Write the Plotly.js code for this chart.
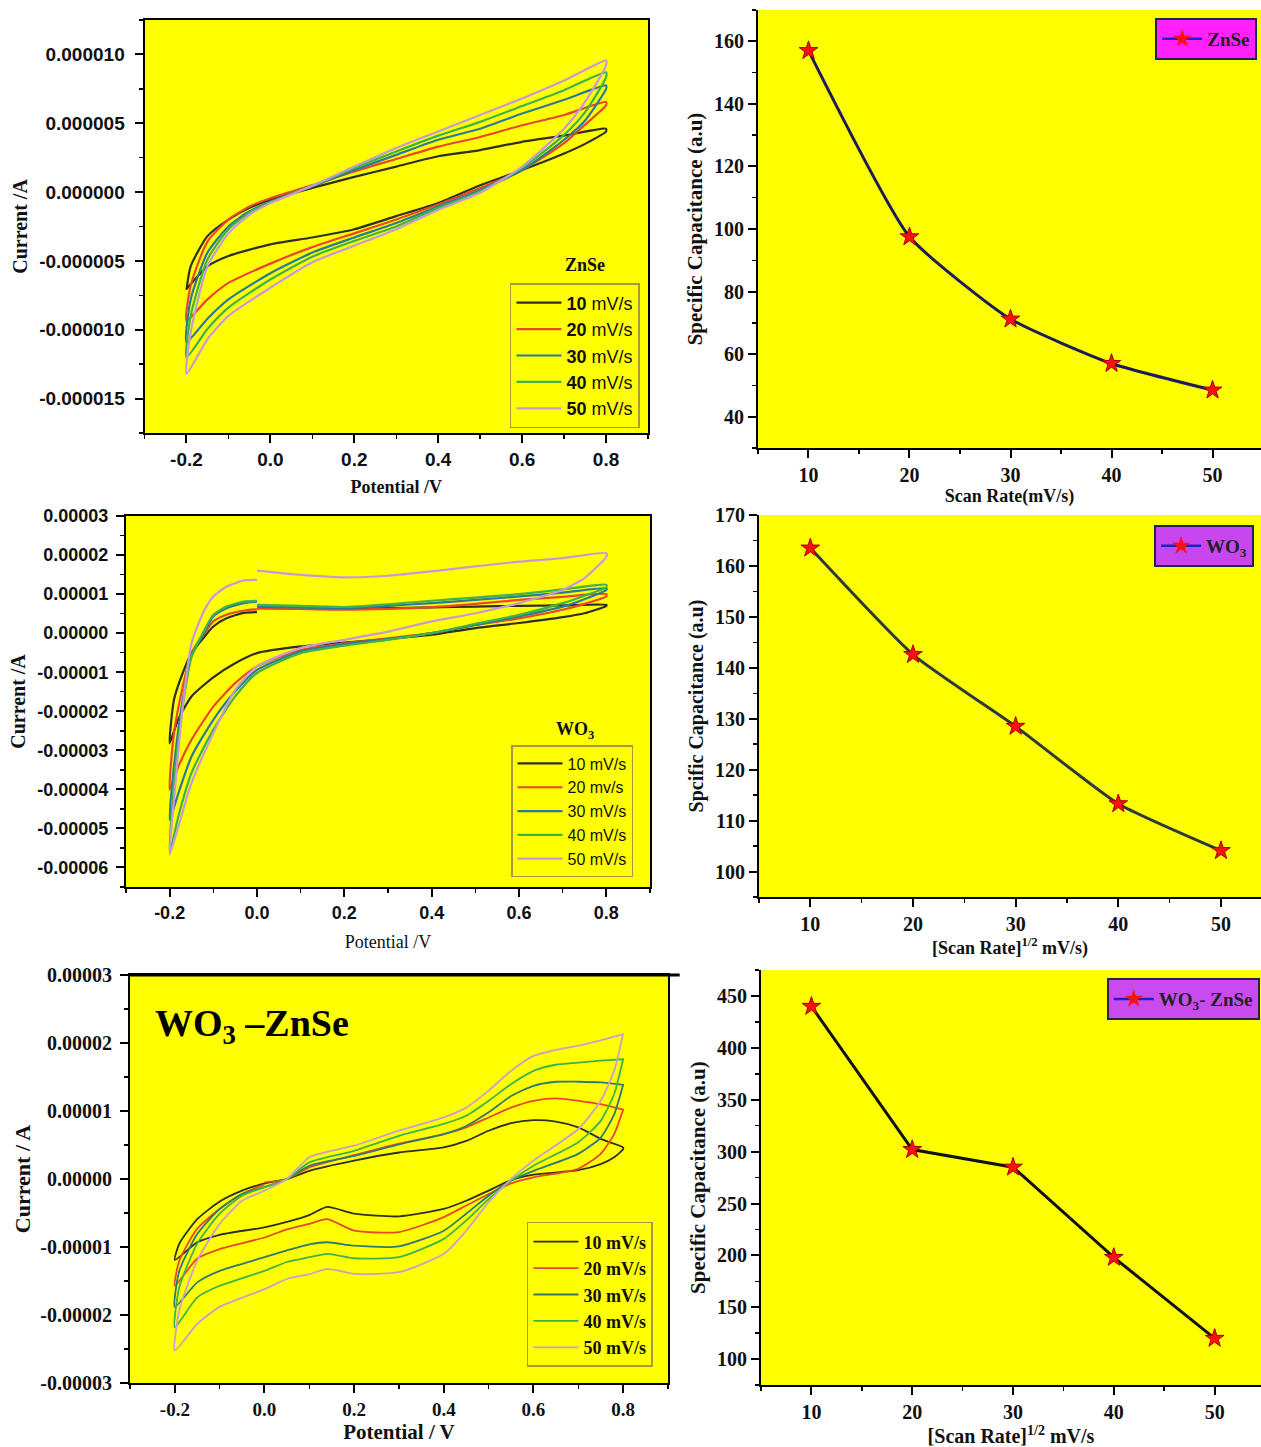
<!DOCTYPE html>
<html><head><meta charset="utf-8">
<script src="https://cdn.plot.ly/plotly-3.0.1.min.js"></script>
<style>html,body{margin:0;padding:0;background:#fff}</style>
</head><body>
<div id="chart" style="width:1261px;height:1447px"></div>
<script>
// ---------------- DATA ----------------
// Cyclic voltammetry, currents in microamperes (µA), potentials in V
const RATE_NAMES = ['10 mV/s', '20 mV/s', '30 mV/s', '40 mV/s', '50 mV/s'];

// Panel 1: ZnSe
const ZNSE_V = [-0.2,-0.19,-0.15,-0.1,-0.05,0,0.1,0.2,0.3,0.4,0.5,0.6,0.7,0.8,
                0.8,0.75,0.7,0.6,0.5,0.4,0.3,0.2,0.1,0,-0.1,-0.15,-0.2];
const ZNSE_10 = [-7.1,-5.4,-3.2,-2.0,-1.15,-0.55,0.3,1.1,1.85,2.6,3.05,3.65,4.1,4.6,
                 4.4,3.5,2.8,1.6,0.5,-0.8,-1.75,-2.7,-3.3,-3.8,-4.65,-5.4,-7.05];
const ZNSE_20 = [-9.35,-6.8,-3.6,-2.0,-1.05,-0.45,0.5,1.5,2.4,3.3,4.0,4.85,5.6,6.55,
                 6.3,4.9,3.55,1.6,0.3,-0.9,-2.0,-3.0,-4.0,-5.2,-6.6,-7.8,-9.35];
const ZNSE_30 = [-10.9,-7.8,-4.4,-2.5,-1.4,-0.7,0.4,1.6,2.7,3.8,4.6,5.7,6.7,7.75,
                 7.5,5.2,3.8,1.6,0.15,-1.05,-2.25,-3.3,-4.4,-5.9,-7.8,-9.2,-10.9];
const ZNSE_40 = [-12.0,-9.0,-4.9,-2.7,-1.5,-0.75,0.45,1.75,2.95,4.1,5.1,6.25,7.4,8.7,
                 8.35,5.8,4.15,1.75,0.05,-1.15,-2.5,-3.55,-4.7,-6.35,-8.4,-9.95,-12.0];
const ZNSE_50 = [-13.2,-10.2,-5.4,-3.0,-1.65,-0.8,0.45,1.85,3.2,4.4,5.6,6.8,8.1,9.55,
                 9.2,6.55,4.6,1.85,-0.05,-1.3,-2.7,-3.9,-5.1,-6.95,-9.0,-10.7,-13.2];

// Panel 3: WO3
const WO3_V = [0,0.1,0.2,0.3,0.4,0.5,0.6,0.7,0.8,
               0.8,0.75,0.7,0.6,0.5,0.4,0.3,0.2,0.1,0,-0.05,-0.1,-0.15,-0.18,-0.2,
               -0.19,-0.17,-0.15,-0.12,-0.1,-0.07,-0.03,0];
const WO3_10 = [6.4,6.3,6.2,6.4,6.6,6.8,7.0,7.1,7.25,
                7.0,5.1,4.1,2.6,1.3,-0.4,-1.5,-2.4,-3.4,-5.1,-7.7,-11.3,-16.2,-22.0,-28.2,
                -17,-10.2,-5.1,-0.85,1.7,3.8,5.2,5.4];
const WO3_20 = [6.4,6.2,6.0,6.2,6.65,7.5,8.5,9.3,10.0,
                9.4,7.5,6.0,3.8,2.1,0,-1.3,-2.6,-4.3,-8.5,-12.8,-18.8,-27.3,-34.1,-40.1,
                -25.6,-13.7,-5.1,0,3.0,4.7,5.8,6.1];
const WO3_30 = [6.8,6.6,6.4,7.0,7.7,8.5,9.4,10.4,11.5,
                11.1,8.7,6.8,4.3,2.1,0,-1.5,-2.8,-4.7,-9.4,-14.9,-22.2,-31.6,-41.0,-47.8,
                -34,-17,-6,0.4,4.3,6.4,7.7,8.1];
const WO3_40 = [7.25,7.0,6.7,7.4,8.3,9.1,10.0,11.2,12.4,
                11.8,9.6,7.7,4.7,2.4,0,-1.7,-3.2,-5.1,-10.2,-16.2,-24.7,-35.8,-46.9,-56.3,
                -38.4,-18.8,-6.0,0.85,4.7,6.8,8.1,8.3];
const WO3_50 = [16.0,14.9,14.3,14.7,15.8,17.1,18.3,19.2,20.5,
                19.6,14.1,11.1,7.7,5.1,3.0,0.4,-1.7,-3.8,-8.5,-14.5,-25.6,-38.4,-49.5,-56.7,
                -42.7,-18.8,-2.6,6.0,9.4,11.9,13.5,13.65];

// Panel 5: WO3-ZnSe
const WZ_V = [0,0.05,0.1,0.2,0.3,0.4,0.45,0.5,0.55,0.6,0.65,0.7,0.75,0.8,
              0.8,0.78,0.75,0.7,0.6,0.55,0.5,0.45,0.4,0.3,0.2,0.14,0.1,0.05,0,-0.1,-0.15,-0.2,
              -0.19,-0.15,-0.1,-0.05,0];
const WZ_10 = [-0.65,0,1.2,2.7,3.9,4.65,5.6,7.1,8.2,8.65,8.45,7.6,5.9,4.65,
               4.4,3.2,2.2,1.3,0.65,-0.15,-1.7,-3.2,-4.4,-5.5,-5.1,-4.1,-5.3,-6.3,-7.1,-8.2,-9.3,-11.9,
               -9.5,-5.9,-3.3,-1.7,-0.65];
const WZ_20 = [-0.5,0,1.7,3.5,5.2,6.6,7.6,9.05,10.5,11.5,11.85,11.5,11.0,10.2,
               10.2,6.6,3.7,1.5,0.25,-0.65,-2.2,-3.9,-5.6,-7.8,-7.6,-5.9,-6.6,-7.4,-8.6,-10.3,-11.7,-15.7,
               -12.0,-7.3,-4.4,-2.2,-0.8];
const WZ_30 = [-1.2,0,1.95,3.4,5.1,6.6,7.8,9.8,12.2,13.7,14.3,14.3,14.2,13.85,
               13.85,9.5,6.1,3.7,1.2,-0.25,-2.45,-5.1,-7.6,-9.9,-9.8,-9.3,-9.6,-10.5,-11.5,-13.5,-15.2,-18.8,
               -13.5,-8.1,-4.4,-2.2,-1.2];
const WZ_40 = [-1.2,0,2.45,4.15,6.35,8.1,9.3,11.5,13.95,15.9,16.8,17.1,17.4,17.6,
               17.6,12.5,8.55,5.4,1.95,-0.25,-2.95,-6.1,-8.8,-11.5,-11.65,-11.0,-11.5,-12.2,-13.5,-15.7,-17.4,-21.8,
               -15.9,-9.5,-5.1,-2.45,-1.2];
const WZ_50 = [-1.7,0,3.2,4.9,7.1,9.05,10.5,13.0,15.9,18.1,19.0,19.6,20.4,21.3,
               21.3,15.9,11.5,7.35,2.7,0,-3.4,-7.6,-11.0,-13.7,-13.95,-13.2,-14.0,-14.7,-16.2,-18.8,-21.3,-25.2,
               -19.3,-12.0,-6.6,-3.2,-1.7];

// Specific capacitance vs scan rate
const SCAN_RATES = [10, 20, 30, 40, 50];
const CAP_ZNSE = [157, 97.5, 71.2, 57, 48.5];
const CAP_WO3 = [163.5, 142.6, 128.5, 113.3, 104.1];
const CAP_WO3_ZNSE = [440, 302, 285, 198, 120];

// Tick labels
const CV_X_TICKS = [-0.2, 0, 0.2, 0.4, 0.6, 0.8];
const CV_X_TEXT = ['-0.2', '0.0', '0.2', '0.4', '0.6', '0.8'];
const ZNSE_Y_TICKS = [10, 5, 0, -5, -10, -15];
const ZNSE_Y_TEXT = ['0.000010', '0.000005', '0.000000', '-0.000005', '-0.000010', '-0.000015'];
const WO3_Y_TICKS = [30, 20, 10, 0, -10, -20, -30, -40, -50, -60];
const WO3_Y_TEXT = ['0.00003', '0.00002', '0.00001', '0.00000', '-0.00001', '-0.00002', '-0.00003', '-0.00004', '-0.00005', '-0.00006'];
const WZ_Y_TICKS = [30, 20, 10, 0, -10, -20, -30];
const WZ_Y_TEXT = ['0.00003', '0.00002', '0.00001', '0.00000', '-0.00001', '-0.00002', '-0.00003'];

// ---------------- STYLE ----------------
const SERIF = 'Liberation Serif, Times New Roman, serif';
const SANS = 'Liberation Sans, Arial, sans-serif';
const COLORS_1 = ['#2f2f22', '#e8482a', '#2b7a96', '#3db34a', '#c79ad6'];
const COLORS_5 = ['#2f2f22', '#e8482a', '#2e7a6c', '#3db34a', '#c8a0c8'];

const traces = [];
function cvTraces(V, series, names, colors, xa, ya, leg, width) {
  series.forEach((s, i) => {
    traces.push({
      type: 'scatter', mode: 'lines', x: V, y: s, name: names[i],
      xaxis: xa, yaxis: ya, legend: leg,
      line: {color: colors[i], width: width, shape: 'spline', smoothing: 0.6}
    });
  });
}
cvTraces(ZNSE_V, [ZNSE_10, ZNSE_20, ZNSE_30, ZNSE_40, ZNSE_50],
  RATE_NAMES.map(n => '<b>' + n.split(' ')[0] + '</b> ' + n.split(' ')[1]),
  COLORS_1, 'x', 'y', 'legend', 2.2);
cvTraces(WO3_V, [WO3_10, WO3_20, WO3_30, WO3_40, WO3_50],
  ['10 mV/s', '20 mv/s', '30 mV/s', '40 mV/s', '50 mV/s'],
  COLORS_1, 'x3', 'y3', 'legend3', 2.2);
cvTraces(WZ_V, [WZ_10, WZ_20, WZ_30, WZ_40, WZ_50],
  RATE_NAMES, COLORS_5, 'x5', 'y5', 'legend5', 1.8);

function capTrace(y, xa, ya, lineColor, shape) {
  traces.push({
    type: 'scatter', mode: 'lines+markers', x: SCAN_RATES, y: y,
    xaxis: xa, yaxis: ya, showlegend: false,
    line: {color: lineColor, width: 3, shape: shape, smoothing: 0.5},
    marker: {symbol: 'star', size: 14, color: '#ff1010', line: {color: '#a00000', width: 1}}
  });
}
function capLegend(name, leg) {
  traces.push({
    type: 'scatter', mode: 'lines+markers', x: [null], y: [null], name: name,
    xaxis: 'x2', yaxis: 'y2', legend: leg,
    line: {color: '#2020c8', width: 2.5},
    marker: {symbol: 'star', size: 14, color: '#ff1010'}
  });
}
capTrace(CAP_ZNSE, 'x2', 'y2', '#1c1c58', 'spline');
capTrace(CAP_WO3, 'x4', 'y4', '#2c3a3a', 'spline');
capTrace(CAP_WO3_ZNSE, 'x6', 'y6', '#111111', 'linear');
capLegend('ZnSe', 'legend2');
capLegend('WO<sub>3</sub>', 'legend4');
capLegend('WO<sub>3</sub>- ZnSe', 'legend6');

function ax(extra) {
  return Object.assign({
    showline: true, linecolor: '#000', linewidth: 2, mirror: true,
    ticks: 'outside', ticklen: 8, tickwidth: 2, tickcolor: '#000',
    showgrid: false, zeroline: false, automargin: false,
  }, extra);
}
const tfSans = {family: SANS, size: 19, color: '#111', weight: 'bold'};
const tfSerif = {family: SERIF, size: 20, color: '#111', weight: 'bold'};
const titleSerif = (t, size, standoff, weight) => ({text: t, standoff: standoff,
  font: {family: SERIF, size: size, color: '#111', weight: weight || 'bold'}});
const minorCV = (d) => ({ticks: 'outside', ticklen: 4, tickwidth: 1.5, tickcolor: '#000', dtick: d, tick0: 0});

const layout = {
  width: 1261, height: 1447,
  margin: {l: 0, r: 0, t: 0, b: 0},
  paper_bgcolor: '#ffffff', plot_bgcolor: '#ffff00',
  font: {family: SERIF, color: '#111'},
  // Panel 1
  xaxis: ax({domain: [0.1146, 0.5139], range: [-0.3, 0.9], anchor: 'y',
    tickmode: 'array', tickvals: CV_X_TICKS, ticktext: CV_X_TEXT, tickfont: tfSans,
    minor: minorCV(0.1), title: titleSerif('Potential /V', 18, 12)}),
  yaxis: ax({domain: [0.7008, 0.9862], range: [-17.5, 12.5], anchor: 'x',
    tickmode: 'array', tickvals: ZNSE_Y_TICKS, ticktext: ZNSE_Y_TEXT, tickfont: tfSans,
    ticklabelstandoff: 6, minor: minorCV(2.5), title: titleSerif('Current /A', 20, 6)}),
  // Panel 2
  xaxis2: ax({domain: [0.6011, 1], range: [5, 54.8], anchor: 'y2', mirror: false,
    dtick: 10, tick0: 0, tickfont: tfSerif, minor: minorCV(5),
    title: titleSerif('Scan Rate(mV/s)', 18, 2)}),
  yaxis2: ax({domain: [0.6904, 0.9931], range: [30, 170], anchor: 'x2', mirror: false,
    dtick: 20, tick0: 0, tickfont: tfSerif, minor: minorCV(10),
    title: titleSerif('Specific Capacitance (a.u)', 21, 6)}),
  // Panel 3
  xaxis3: ax({domain: [0.0999, 0.5155], range: [-0.3, 0.9], anchor: 'y3',
    tickmode: 'array', tickvals: CV_X_TICKS, ticktext: CV_X_TEXT, tickfont: {family: SANS, size: 18, color: '#111', weight: 'bold'},
    minor: minorCV(0.1), title: titleSerif('Potential /V', 18, 14, 'normal')}),
  yaxis3: ax({domain: [0.387, 0.6434], range: [-65, 30], anchor: 'x3',
    tickmode: 'array', tickvals: WO3_Y_TICKS, ticktext: WO3_Y_TEXT, tickfont: {family: SANS, size: 18, color: '#111', weight: 'bold'},
    ticklabelstandoff: 4, minor: minorCV(5), title: titleSerif('Current /A', 20, 6)}),
  // Panel 4
  xaxis4: ax({domain: [0.6019, 1], range: [5, 53.9], anchor: 'y4', mirror: false,
    dtick: 10, tick0: 0, tickfont: tfSerif, minor: minorCV(5),
    title: titleSerif('[Scan Rate]<sup>1/2</sup> mV/s)', 18, 2)}),
  yaxis4: ax({domain: [0.3801, 0.6441], range: [95, 170], anchor: 'x4', mirror: false,
    dtick: 10, tick0: 0, tickfont: tfSerif, minor: minorCV(5),
    title: titleSerif('Spcific Capacitance (a.u)', 20, 6)}),
  // Panel 5
  xaxis5: ax({domain: [0.1031, 0.5297], range: [-0.3, 0.9], anchor: 'y5',
    tickmode: 'array', tickvals: CV_X_TICKS, ticktext: CV_X_TEXT, tickfont: {family: SERIF, size: 19, color: '#111', weight: 'bold'},
    minor: minorCV(0.1), title: titleSerif('Potential / V', 21, 2)}),
  yaxis5: ax({domain: [0.0442, 0.3262], range: [-30, 30], anchor: 'x5',
    tickmode: 'array', tickvals: WZ_Y_TICKS, ticktext: WZ_Y_TEXT, tickfont: {family: SERIF, size: 20, color: '#111', weight: 'bold'},
    ticklabelstandoff: 4, minor: minorCV(5), title: titleSerif('Current / A', 22, 4)}),
  // Panel 6
  xaxis6: ax({domain: [0.6035, 1], range: [5, 54.6], anchor: 'y6', mirror: false,
    dtick: 10, tick0: 0, tickfont: tfSerif, minor: minorCV(5),
    title: titleSerif('[Scan Rate]<sup>1/2</sup> mV/s', 20, 2)}),
  yaxis6: ax({domain: [0.0428, 0.3296], range: [75, 475], anchor: 'x6', mirror: false,
    dtick: 50, tick0: 0, tickfont: tfSerif, minor: minorCV(25),
    title: titleSerif('Specific Capacitance (a.u)', 21, 6)}),

  legend: {x: 0.5075, y: 0.7042, xanchor: 'right', yanchor: 'bottom',
    bgcolor: 'rgba(0,0,0,0)', bordercolor: '#a89a3a', borderwidth: 1.5, itemwidth: 45,
    font: {family: SANS, size: 18, color: '#111'}},
  legend3: {x: 0.502, y: 0.3939, xanchor: 'right', yanchor: 'bottom',
    bgcolor: 'rgba(0,0,0,0)', bordercolor: '#a89a3a', borderwidth: 1.5, itemwidth: 45,
    font: {family: SANS, size: 16, color: '#111'}},
  legend5: {x: 0.5178, y: 0.0553, xanchor: 'right', yanchor: 'bottom',
    bgcolor: 'rgba(0,0,0,0)', bordercolor: '#a89a3a', borderwidth: 1.5, itemwidth: 45,
    font: {family: SERIF, size: 18, color: '#111', weight: 'bold'}},
  legend2: {x: 0.997, y: 0.9876, xanchor: 'right', yanchor: 'top',
    bgcolor: '#ff22ff', bordercolor: '#222255', borderwidth: 2, itemwidth: 40,
    font: {family: SERIF, size: 19, color: '#222', weight: 'bold'}},
  legend4: {x: 0.9945, y: 0.6372, xanchor: 'right', yanchor: 'top',
    bgcolor: '#c846f0', bordercolor: '#222255', borderwidth: 2, itemwidth: 40,
    font: {family: SERIF, size: 19, color: '#222', weight: 'bold'}},
  legend6: {x: 0.999, y: 0.3241, xanchor: 'right', yanchor: 'top',
    bgcolor: '#c94bf0', bordercolor: '#222255', borderwidth: 2, itemwidth: 40,
    font: {family: SERIF, size: 19, color: '#222', weight: 'bold'}},

  shapes: [
    // thick top frame line of the WO3-ZnSe panel (extends slightly past the plot)
    {type: 'line', xref: 'paper', yref: 'paper', x0: 0.1031, x1: 0.539, y0: 0.3262, y1: 0.3262,
      line: {color: '#000', width: 3}}
  ],

  annotations: [
    {xref: 'paper', yref: 'paper', x: 0.4639, y: 0.8169, xanchor: 'center', yanchor: 'middle',
      showarrow: false, text: 'ZnSe',
      font: {family: SERIF, size: 18, color: '#111', weight: 'bold'}},
    {xref: 'paper', yref: 'paper', x: 0.456, y: 0.4955, xanchor: 'center', yanchor: 'middle',
      showarrow: false, text: 'WO<sub>3</sub>',
      font: {family: SERIF, size: 18, color: '#111', weight: 'bold'}},
    {xref: 'paper', yref: 'paper', x: 0.1998, y: 0.2909, xanchor: 'center', yanchor: 'middle',
      showarrow: false, text: 'WO<sub>3</sub> \u2013ZnSe',
      font: {family: SERIF, size: 38, color: '#000', weight: 'bold'}}
  ]
};

Plotly.newPlot('chart', traces, layout, {displayModeBar: false, staticPlot: true});
</script></body></html>
